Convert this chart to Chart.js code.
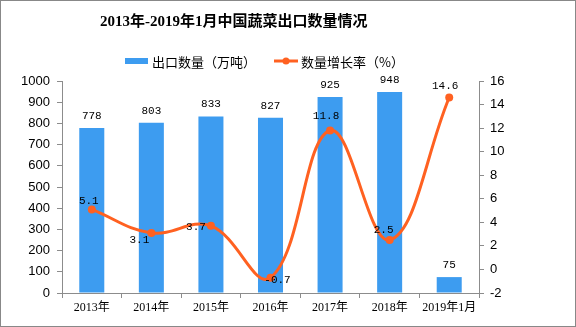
<!DOCTYPE html>
<html>
<head>
<meta charset="utf-8">
<script src="https://cdn.jsdelivr.net/npm/chart.js@4"></script>
<style>
  html, body { margin: 0; padding: 0; background: #fff; }
  #wrap { width: 576px; height: 327px; }
</style>
</head>
<body>
<div id="wrap"><canvas id="chart" width="576" height="327"></canvas></div>
<script>
const years = ['2013年', '2014年', '2015年', '2016年', '2017年', '2018年', '2019年1月'];
const exportVolume = [778, 803, 833, 827, 925, 948, 75];
const growthRate = [5.1, 3.1, 3.7, -0.7, 11.8, 2.5, 14.6];

const chartTitle = '2013年-2019年1月中国蔬菜出口数量情况';
const barLabel = '出口数量（万吨）';
const lineLabel = '数量增长率（%）';

const BLUE = '#3d9cf0';
const ORANGE = '#ff6121';
const AXIS = '#8c8c8c';

// where each growth label sits relative to its point
const rateLabelShift = [[-3, -8], [-12, 7], [-15, 1], [7, 2], [-4, -14], [-6, -10], [-4, -11]];

const decorations = {
  id: 'decorations',
  afterDatasetsDraw(chart) {
    const ctx = chart.ctx;
    ctx.save();

    // bar values
    ctx.font = '11px "Liberation Mono", monospace';
    ctx.fillStyle = '#000';
    ctx.textAlign = 'center';
    ctx.textBaseline = 'middle';
    chart.getDatasetMeta(0).data.forEach((bar, i) => {
      ctx.fillText(String(exportVolume[i]), bar.x, bar.y - 12);
    });

    // growth values
    chart.getDatasetMeta(1).data.forEach((pt, i) => {
      const [dx, dy] = rateLabelShift[i];
      ctx.fillText(growthRate[i].toFixed(1), pt.x + dx, pt.y + dy);
    });

    // title
    ctx.font = 'bold 15px "Liberation Serif", "Noto Sans CJK SC", serif';
    ctx.textAlign = 'left';
    ctx.fillText(chartTitle, 100, 22);

    // legend
    ctx.font = '13px "Noto Sans CJK SC", sans-serif';
    ctx.fillStyle = BLUE;
    ctx.fillRect(125, 58, 23, 6);
    ctx.fillStyle = '#000';
    ctx.fillText(barLabel, 152, 62);

    ctx.strokeStyle = ORANGE;
    ctx.lineWidth = 3;
    ctx.beginPath();
    ctx.moveTo(274, 61);
    ctx.lineTo(298, 61);
    ctx.stroke();
    ctx.fillStyle = ORANGE;
    ctx.beginPath();
    ctx.arc(286, 61, 3.5, 0, Math.PI * 2);
    ctx.fill();
    ctx.fillStyle = '#000';
    ctx.fillText(lineLabel, 301, 62);

    // outer frame
    ctx.strokeStyle = '#888';
    ctx.lineWidth = 1;
    ctx.strokeRect(0.5, 0.5, 575, 326);
    ctx.restore();
  }
};

new Chart(document.getElementById('chart'), {
  type: 'bar',
  data: {
    labels: years,
    datasets: [
      {
        label: barLabel,
        data: exportVolume,
        backgroundColor: BLUE,
        yAxisID: 'y',
        barPercentage: 0.6,
        categoryPercentage: 0.7,
        order: 2
      },
      {
        type: 'line',
        label: lineLabel,
        data: growthRate,
        borderColor: ORANGE,
        backgroundColor: ORANGE,
        borderWidth: 3,
        pointRadius: 4,
        pointBackgroundColor: ORANGE,
        pointBorderWidth: 0,
        tension: 0.4,
        yAxisID: 'y1',
        order: 1
      }
    ]
  },
  options: {
    responsive: false,
    animation: false,
    layout: { padding: { top: 81, left: 0, right: 0, bottom: 0 } },
    plugins: {
      legend: { display: false },
      title: { display: false },
      tooltip: { enabled: false }
    },
    scales: {
      x: {
        grid: { drawOnChartArea: false, offset: true, tickLength: 5, color: AXIS },
        border: { color: AXIS },
        ticks: {
          color: '#000',
          padding: 3,
          maxRotation: 0,
          autoSkip: false,
          font: { family: '"Liberation Serif", "Noto Sans CJK SC", serif', size: 12 }
        },
        afterFit(scale) { scale.height = 34; }
      },
      y: {
        position: 'left',
        min: 0,
        max: 1000,
        grid: { drawOnChartArea: false, tickLength: 5, color: AXIS },
        border: { color: AXIS },
        ticks: {
          stepSize: 100,
          color: '#000',
          padding: 7,
          callback: v => String(v),
          font: { family: '"Liberation Sans", Arial, sans-serif', size: 13 }
        },
        afterFit(scale) { scale.width = 62; }
      },
      y1: {
        position: 'right',
        min: -2,
        max: 16,
        grid: { drawOnChartArea: false, tickLength: 5, color: AXIS },
        border: { color: AXIS },
        ticks: {
          stepSize: 2,
          color: '#000',
          padding: 6,
          callback: v => String(v),
          font: { family: '"Liberation Sans", Arial, sans-serif', size: 13 }
        },
        afterFit(scale) { scale.width = 97; }
      }
    }
  },
  plugins: [decorations]
});
</script>
</body>
</html>
